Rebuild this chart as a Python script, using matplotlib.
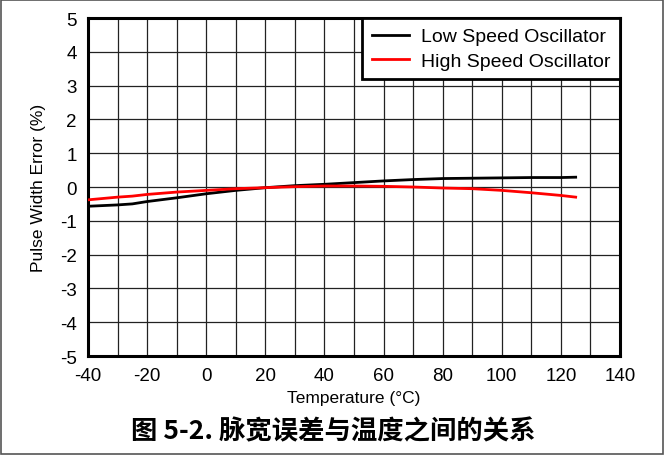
import numpy as np
import matplotlib
matplotlib.use("Agg")
import matplotlib.pyplot as plt
from matplotlib.patches import Rectangle

plt.rcParams['font.family'] = ['Liberation Sans', 'DejaVu Sans']
plt.rcParams['axes.unicode_minus'] = False

# temperature (C) and pulse width error (%)
temp = [-40, -30, -25, -20, -10, 0, 10, 20, 30, 40, 50, 60, 70, 80, 90, 100, 110, 120, 125]
low_speed = [-0.57, -0.53, -0.50, -0.43, -0.32, -0.20, -0.10, -0.02, 0.04, 0.08, 0.13,
             0.18, 0.22, 0.25, 0.26, 0.27, 0.28, 0.28, 0.29]
high_speed = [-0.38, -0.30, -0.27, -0.22, -0.15, -0.10, -0.05, -0.02, 0.01, 0.03, 0.03,
              0.02, 0.00, -0.03, -0.05, -0.10, -0.17, -0.25, -0.30]

xticks = np.arange(-40, 141, 20)
yticks = np.arange(-5, 6, 1)

fig = plt.figure(figsize=(6.66, 4.56), dpi=100)
ax = fig.add_axes([88/666, 1-357/456, (620-88)/666, (357-19)/456])

ax.plot(temp, low_speed, color='black', lw=2, label='Low Speed Oscillator', zorder=3)
ax.plot(temp, high_speed, color='red', lw=2, label='High Speed Oscillator', zorder=3)

ax.set_xlim(-40, 140)
ax.set_ylim(-5, 5)
ax.set_xticks(xticks)
ax.set_yticks(yticks)
ax.set_xticks(np.arange(-40, 141, 10), minor=True)
ax.grid(True, which='both', color='#222222', lw=0.9)
ax.tick_params(which='both', length=0, labelsize=13.5)
ax.tick_params(axis='x', pad=8)
ax.tick_params(axis='y', pad=8)
for s in ax.spines.values():
    s.set_linewidth(2.2)

ax.set_xlabel('Temperature (°C)', fontsize=12.5, labelpad=4)
ax.set_ylabel('Pulse Width Error (%)', fontsize=12.5, labelpad=10)

leg = ax.legend(loc='upper right', fontsize=14, frameon=True, fancybox=False,
                borderaxespad=0, handlelength=1.9, handletextpad=0.6,
                borderpad=0.5, labelspacing=0.35)
leg.get_frame().set_edgecolor('black')
leg.get_frame().set_linewidth(2)
leg.get_frame().set_alpha(1)

fig.text(0.5, 1 - 432/456, '图 5-2. 脉宽误差与温度之间的关系', ha='center', va='center',
         fontsize=19, fontweight='bold', family=['Noto Sans CJK SC', 'DejaVu Sans'])

fig.patches.append(Rectangle((1/666, 1/456), 662/666, 454/456, transform=fig.transFigure,
                             fill=False, edgecolor='#555555', lw=1.2))

fig.savefig('out.png', dpi=100)
